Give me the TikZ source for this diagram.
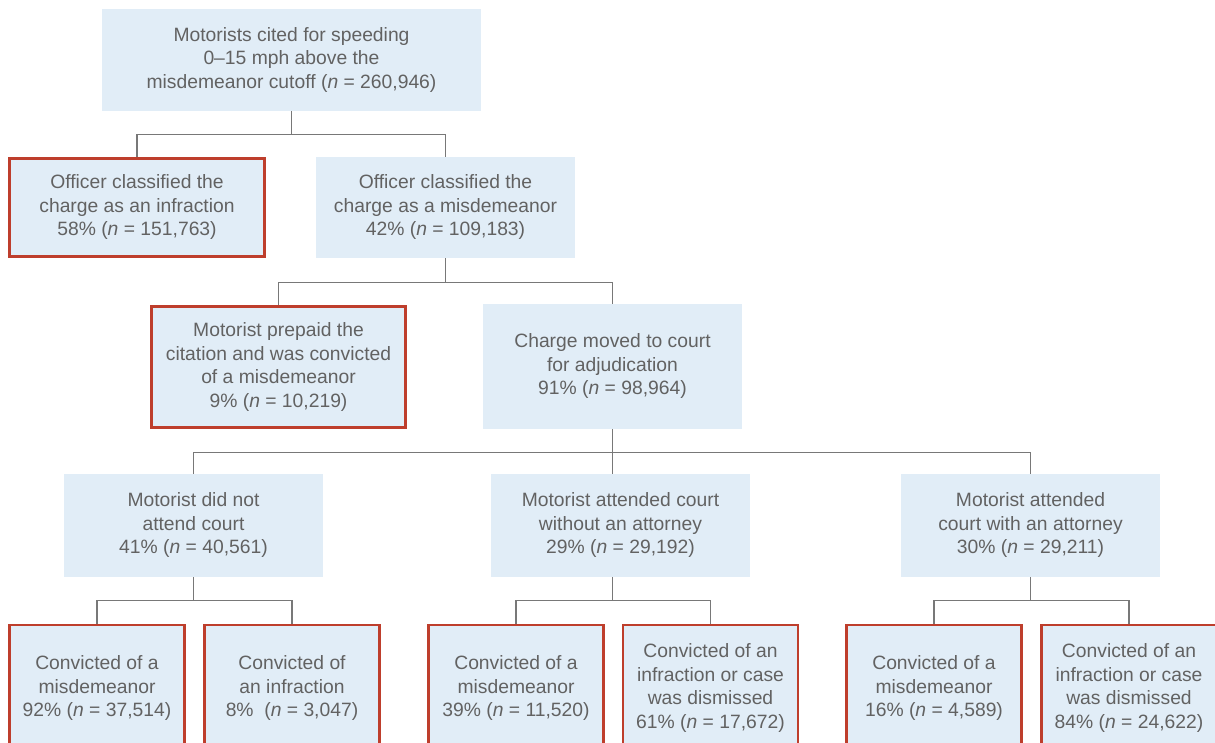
\documentclass[tikz,border=0pt]{standalone}
\usepackage{fontspec}
\setmainfont{Liberation Sans}
\usepackage{tikz}

\definecolor{boxblue}{RGB}{225,237,247}
\definecolor{textgrey}{RGB}{98,98,98}
\definecolor{linegrey}{RGB}{120,120,120}
\definecolor{convred}{RGB}{190,62,44}

\begin{document}
\begin{tikzpicture}[x=1pt,y=-1pt,
    box/.style={rectangle, fill=boxblue, text=textgrey, align=center,
        inner sep=0pt, font=\fontsize{19.3}{23.5}\selectfont},
    redbox/.style={box, draw=convred, line width=2.6pt},
    link/.style={draw=linegrey, line width=1.1pt}]

    \useasboundingbox (0,0) rectangle (1215,743);
    \clip (0,0) rectangle (1215,743);

    % first two levels
    \node[box, minimum width=379pt, minimum height=102pt] (cited) at (291.5,60)
        {Motorists cited for speeding\\0--15 mph above the\\misdemeanor cutoff (\textit{n} = 260,946)};
    \node[redbox, minimum width=255pt, minimum height=98pt] (infr) at (137,207.5)
        {Officer classified the\\charge as an infraction\\58\% (\textit{n} = 151,763)};
    \node[box, minimum width=259pt, minimum height=101pt] (misd) at (445.5,207.5)
        {Officer classified the\\charge as a misdemeanor\\42\% (\textit{n} = 109,183)};
    \node[redbox, minimum width=254pt, minimum height=121pt] (prepaid) at (278.5,367)
        {Motorist prepaid the\\citation and was convicted\\of a misdemeanor\\9\% (\textit{n} = 10,219)};
    \node[box, minimum width=259pt, minimum height=125pt] (court) at (612.5,366.5)
        {Charge moved to court\\for adjudication\\91\% (\textit{n} = 98,964)};

    % court attendance
    \node[box, minimum width=259pt, minimum height=103pt] (noshow) at (193.5,525.5)
        {Motorist did not\\attend court\\41\% (\textit{n} = 40,561)};
    \node[box, minimum width=259pt, minimum height=103pt] (noatty) at (620.5,525.5)
        {Motorist attended court\\without an attorney\\29\% (\textit{n} = 29,192)};
    \node[box, minimum width=259pt, minimum height=103pt] (atty) at (1030.5,525.5)
        {Motorist attended\\court with an attorney\\30\% (\textit{n} = 29,211)};

    % outcomes
    \node[redbox, minimum width=175pt, minimum height=126pt] (outa) at (97,688)
        {Convicted of a\\misdemeanor\\92\% (\textit{n} = 37,514)};
    \node[redbox, minimum width=175pt, minimum height=126pt] (outb) at (292,688)
        {Convicted of\\an infraction\\8\%\ \ (\textit{n} = 3,047)};
    \node[redbox, minimum width=175pt, minimum height=126pt] (outc) at (516,688)
        {Convicted of a\\misdemeanor\\39\% (\textit{n} = 11,520)};
    \node[redbox, minimum width=175pt, minimum height=126pt] (outd) at (710.5,688)
        {Convicted of an\\infraction or case\\was dismissed\\61\% (\textit{n} = 17,672)};
    \node[redbox, minimum width=175pt, minimum height=126pt] (oute) at (934,688)
        {Convicted of a\\misdemeanor\\16\% (\textit{n} = 4,589)};
    \node[redbox, minimum width=175pt, minimum height=126pt] (outf) at (1129,688)
        {Convicted of an\\infraction or case\\was dismissed\\84\% (\textit{n} = 24,622)};

    % connectors
    \draw[link] (cited.south) -- ++(0,23) coordinate (bus1);
    \draw[link] (infr.north) |- (bus1) -| (misd.north);
    \draw[link] (misd.south) -- ++(0,24) coordinate (bus2);
    \draw[link] (prepaid.north) |- (bus2) -| (court.north);
    \draw[link] (court.south) -- (court.south |- noatty.north);
    \draw[link] (court.south) ++(0,23) coordinate (bus3);
    \draw[link] (noshow.north) |- (bus3) -| (atty.north);
    \draw[link] (noshow.south) -- ++(0,23) coordinate (bus4);
    \draw[link] (outa.north) |- (bus4) -| (outb.north);
    \draw[link] (court.south |- noatty.south) -- ++(0,23) coordinate (bus5);
    \draw[link] (outc.north) |- (bus5) -| (outd.north);
    \draw[link] (atty.south) -- ++(0,23) coordinate (bus6);
    \draw[link] (oute.north) |- (bus6) -| (outf.north);
\end{tikzpicture}
\end{document}
